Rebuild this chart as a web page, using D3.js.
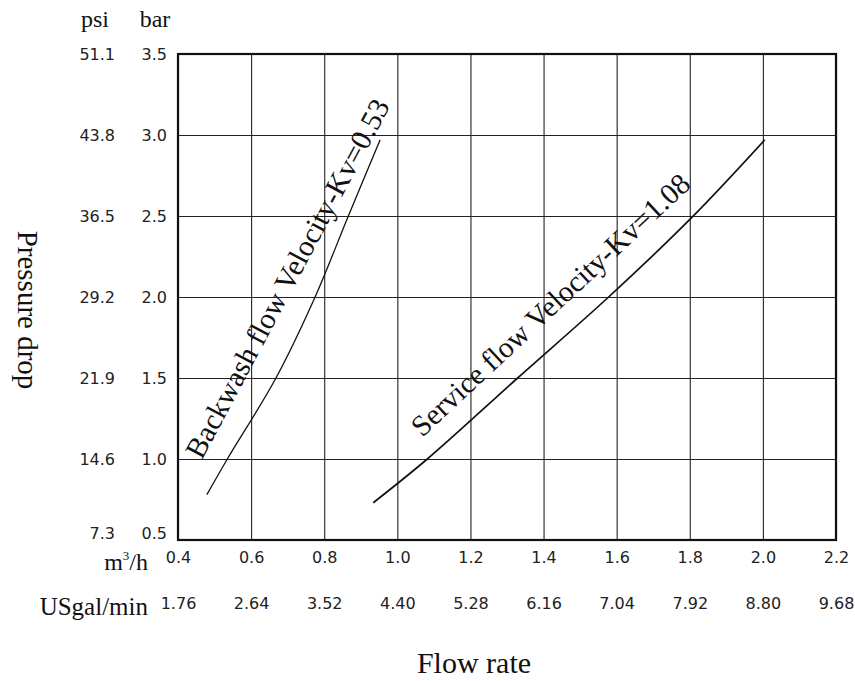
<!DOCTYPE html>
<html>
<head>
<meta charset="utf-8">
<script src="https://cdn.jsdelivr.net/npm/d3@7/dist/d3.min.js"></script>
<style>
  html, body { margin: 0; padding: 0; background: #fff; }
  svg { display: block; }
  .serif { font-family: "Liberation Serif", "DejaVu Serif", serif; fill: #111; }
  .tick text { font-family: "DejaVu Sans", sans-serif; font-size: 16px; fill: #222; }
</style>
</head>
<body>
<svg id="chart" width="855" height="681"></svg>
<script>
// ---- data ----
const flowTicks = [0.4, 0.6, 0.8, 1.0, 1.2, 1.4, 1.6, 1.8, 2.0, 2.2];
const flowLabels = ["0.4", "0.6", "0.8", "1.0", "1.2", "1.4", "1.6", "1.8", "2.0", "2.2"];
const usgalLabels = ["1.76", "2.64", "3.52", "4.40", "5.28", "6.16", "7.04", "7.92", "8.80", "9.68"];
const barTicks = [0.5, 1.0, 1.5, 2.0, 2.5, 3.0, 3.5];
const barLabels = ["0.5", "1.0", "1.5", "2.0", "2.5", "3.0", "3.5"];
const psiLabels = ["7.3", "14.6", "21.9", "29.2", "36.5", "43.8", "51.1"];

// Backwash flow (Kv = 0.53): [flow m3/h, pressure drop bar]
const backwashFlow = [0.479, 0.535, 0.668, 0.775, 0.866, 0.953];
const backwashBar  = [0.78, 1.00, 1.50, 2.00, 2.50, 2.97];
// Service flow (Kv = 1.08)
const serviceFlow = [0.934, 1.082, 1.329, 1.578, 1.805, 2.005];
const serviceBar  = [0.73, 1.00, 1.50, 2.00, 2.49, 2.97];

const backwashLabel = "Backwash flow Velocity-Kv=0.53";
const serviceLabel = "Service flow Velocity-Kv=1.08";

// ---- layout ----
const svg = d3.select("#chart");
const pL = 178, pR = 836, pT = 54, pB = 540;
const W = pR - pL, H = pB - pT;

const x = d3.scaleLinear().domain([0.4, 2.2]).range([pL, pR]);
const y = d3.scaleLinear().domain([0.5, 3.5]).range([pB, pT]);

// grid + bar axis
const gBar = svg.append("g").attr("transform", `translate(${pL},0)`)
  .call(d3.axisLeft(y).tickValues(barTicks)
    .tickFormat((d, i) => barLabels[i])
    .tickSizeInner(-W).tickSizeOuter(0).tickPadding(11));
gBar.select(".domain").remove();
gBar.selectAll(".tick line").attr("stroke", "#222").attr("stroke-width", 1.1);
gBar.selectAll(".tick text").attr("dy", (d, i) => i === 0 ? "-0.1em" : "0.32em");

// psi axis (labels only)
const gPsi = svg.append("g").attr("transform", `translate(${pL},0)`)
  .call(d3.axisLeft(y).tickValues(barTicks)
    .tickFormat((d, i) => psiLabels[i])
    .tickSize(0).tickPadding(63));
gPsi.select(".domain").remove();
gPsi.selectAll(".tick text").attr("dy", (d, i) => i === 0 ? "-0.1em" : "0.32em");

// x axis (m3/h) + vertical grid
const gX = svg.append("g").attr("transform", `translate(0,${pB})`)
  .call(d3.axisBottom(x).tickValues(flowTicks)
    .tickFormat((d, i) => flowLabels[i])
    .tickSizeInner(-H).tickSizeOuter(0).tickPadding(12));
gX.select(".domain").remove();
gX.selectAll(".tick line").attr("stroke", "#222").attr("stroke-width", 1.1);

// USgal/min axis (labels only)
const gU = svg.append("g").attr("transform", `translate(0,${pB})`)
  .call(d3.axisBottom(x).tickValues(flowTicks)
    .tickFormat((d, i) => usgalLabels[i])
    .tickSize(0).tickPadding(58));
gU.select(".domain").remove();

// frame
svg.append("rect")
  .attr("x", x(0.4)).attr("y", y(3.5))
  .attr("width", x(2.2) - x(0.4)).attr("height", y(0.5) - y(3.5))
  .attr("fill", "none").attr("stroke", "#111").attr("stroke-width", 2.2);

// curves
const line = d3.line().x(d => x(d[0])).y(d => y(d[1])).curve(d3.curveCatmullRom.alpha(0.5));
const bwData = backwashFlow.map((f, i) => [f, backwashBar[i]]);
const svData = serviceFlow.map((f, i) => [f, serviceBar[i]]);
svg.append("path").datum(bwData).attr("d", line)
  .attr("fill", "none").attr("stroke", "#111").attr("stroke-width", 1.3);
svg.append("path").datum(svData).attr("d", line)
  .attr("fill", "none").attr("stroke", "#111").attr("stroke-width", 1.7);

// curve labels
svg.append("text").attr("class", "serif")
  .attr("transform", `translate(${x(0.465)},${y(0.99)}) rotate(-62)`)
  .attr("font-size", 29.5).text(backwashLabel);
svg.append("text").attr("class", "serif")
  .attr("transform", `translate(${x(1.068)},${y(1.13)}) rotate(-43)`)
  .attr("font-size", 29.5).text(serviceLabel);

// headers
svg.append("text").attr("class", "serif").attr("x", 95).attr("y", 27)
  .attr("text-anchor", "middle").attr("font-size", 24).text("psi");
svg.append("text").attr("class", "serif").attr("x", 155).attr("y", 27)
  .attr("text-anchor", "middle").attr("font-size", 24).text("bar");

// unit labels
const mt = svg.append("text").attr("class", "serif").attr("x", 148).attr("y", 570)
  .attr("text-anchor", "end").attr("font-size", 24);
mt.append("tspan").text("m");
mt.append("tspan").attr("font-size", 13).attr("dy", -10).text("3");
mt.append("tspan").attr("dy", 10).text("/h");

svg.append("text").attr("class", "serif").attr("x", 148).attr("y", 615)
  .attr("text-anchor", "end").attr("font-size", 25).text("USgal/min");

// axis titles
svg.append("text").attr("class", "serif").attr("x", 474).attr("y", 673)
  .attr("text-anchor", "middle").attr("font-size", 30).text("Flow rate");
svg.append("text").attr("class", "serif")
  .attr("transform", "translate(18,310) rotate(90)")
  .attr("text-anchor", "middle").attr("font-size", 29).text("Pressure drop");
</script>
</body>
</html>
